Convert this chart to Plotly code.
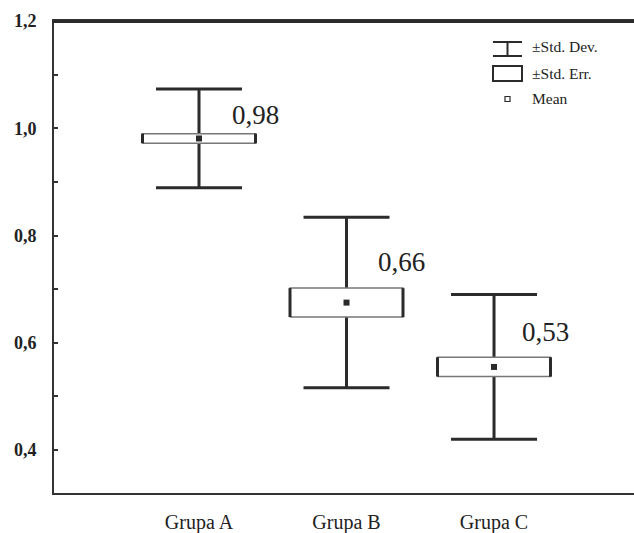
import plotly.graph_objects as go

# ---- data ----
categories = ["Grupa A", "Grupa B", "Grupa C"]
means = [0.981, 0.675, 0.555]
std_dev = [0.092, 0.159, 0.135]
std_err = [0.009, 0.027, 0.018]
mean_labels = ["0,98", "0,66", "0,53"]
y_tick_vals = [0.4, 0.6, 0.8, 1.0, 1.2]
y_tick_text = ["0,4", "0,6", "0,8", "1,0", "1,2"]
legend_texts = ["±Std. Dev.", "±Std. Err.", "Mean"]

# ---- styling / layout constants ----
W, H = 634, 533
ML, MR, MT, MB = 54, 0, 21, 40
PW, PH = W - ML - MR, H - MT - MB
INK = "#2b2b2b"
SERIF = "Liberation Serif, Times New Roman, serif"
BOX_HALF = 0.383
X_RANGE = [-0.983, 2.949]
Y_RANGE = [0.32, 1.2]
label_dx = [0.386, 0.373, 0.346]
label_y = [1.024, 0.750, 0.620]

xs = list(range(len(categories)))

fig = go.Figure()

# SD whiskers
fig.add_trace(go.Scatter(
    x=xs, y=means, mode="markers",
    marker=dict(size=1, color="rgba(0,0,0,0)"),
    error_y=dict(type="data", array=std_dev, symmetric=True,
                 color=INK, thickness=3, width=43),
    hoverinfo="skip", showlegend=False))

# SE boxes (white fill hides the whisker stem)
bx, by = [], []
sx, sy = [], []
for x, m, s in zip(xs, means, std_err):
    lo, hi = m - s, m + s
    bx += [x - BOX_HALF, x + BOX_HALF, x + BOX_HALF, x - BOX_HALF, x - BOX_HALF, None]
    by += [lo, lo, hi, hi, lo, None]
    sx += [x - BOX_HALF, x - BOX_HALF, None, x + BOX_HALF, x + BOX_HALF, None]
    sy += [lo, hi, None, lo, hi, None]
fig.add_trace(go.Scatter(x=bx, y=by, mode="lines", fill="toself",
                         fillcolor="white", line=dict(color="#777", width=1.5),
                         hoverinfo="skip", showlegend=False))
fig.add_trace(go.Scatter(x=sx, y=sy, mode="lines",
                         line=dict(color=INK, width=3),
                         hoverinfo="skip", showlegend=False))

# Means
fig.add_trace(go.Scatter(x=xs, y=means, mode="markers",
                         marker=dict(symbol="square", size=6, color=INK),
                         showlegend=False))

# Mean value labels
for x, dx, ly, t in zip(xs, label_dx, label_y, mean_labels):
    fig.add_annotation(x=x + dx, y=ly, text=t, showarrow=False,
                       xanchor="center", yanchor="middle",
                       font=dict(family=SERIF, size=27, color="#222"))

# ---- custom legend / frame (paper coords from pixel positions) ----
def px(xp):
    return (xp - ML) / PW

def py(yp):
    return (H - MB - yp) / PH

# top frame line (the frame is open on the right)
fig.add_shape(type="rect", xref="paper", yref="paper", x0=px(53), x1=px(634), y0=py(23), y1=py(20),
              line=dict(width=0), fillcolor="#2a2a2a", layer="above")

line = dict(color=INK, width=2)
# I-beam glyph
fig.add_shape(type="line", xref="paper", yref="paper", x0=px(493), x1=px(522), y0=py(42), y1=py(42), line=line)
fig.add_shape(type="line", xref="paper", yref="paper", x0=px(493), x1=px(522), y0=py(56), y1=py(56), line=line)
fig.add_shape(type="line", xref="paper", yref="paper", x0=px(507.5), x1=px(507.5), y0=py(42), y1=py(56), line=line)
# box glyph
fig.add_shape(type="rect", xref="paper", yref="paper", x0=px(493), x1=px(522), y0=py(81), y1=py(66),
              line=line, fillcolor="white")
# mean glyph
fig.add_shape(type="rect", xref="paper", yref="paper", x0=px(505), x1=px(510), y0=py(101.5), y1=py(96.5),
              line=dict(color=INK, width=1.2), fillcolor="white")
for t, yy in zip(legend_texts, [47, 73, 98]):
    fig.add_annotation(xref="paper", yref="paper", x=px(530), y=py(yy), text=t,
                       showarrow=False, xanchor="left", yanchor="middle",
                       font=dict(family=SERIF, size=15.5, color="#222"))

fig.update_layout(
    width=W, height=H,
    margin=dict(l=ML, r=MR, t=MT, b=MB, pad=0, autoexpand=False),
    paper_bgcolor="white", plot_bgcolor="white",
    showlegend=False,
    xaxis=dict(range=X_RANGE, tickvals=xs, ticktext=categories,
               showgrid=False, zeroline=False, ticks="", automargin=False,
               showline=True, linecolor="#333", linewidth=2, mirror="allticks",
               tickfont=dict(family=SERIF, size=20, color="#222"),
               ticklabelstandoff=10),
    yaxis=dict(range=Y_RANGE, tickvals=y_tick_vals, ticktext=y_tick_text,
               showgrid=False, zeroline=False, automargin=False,
               ticks="inside", ticklen=4, tickwidth=1.5, tickcolor="#333",
               minor=dict(tickvals=[0.5, 0.7, 0.9, 1.1], ticks="inside",
                          ticklen=4, tickwidth=1.5, tickcolor="#333"),
               showline=True, linecolor="#333", linewidth=2, mirror=False,
               tickfont=dict(family=SERIF, size=18, color="#222", weight="bold"),
               ticklabelstandoff=12),
)

fig.write_html("out.html", config={"displayModeBar": False},
               post_script="document.body.style.margin='0';")
